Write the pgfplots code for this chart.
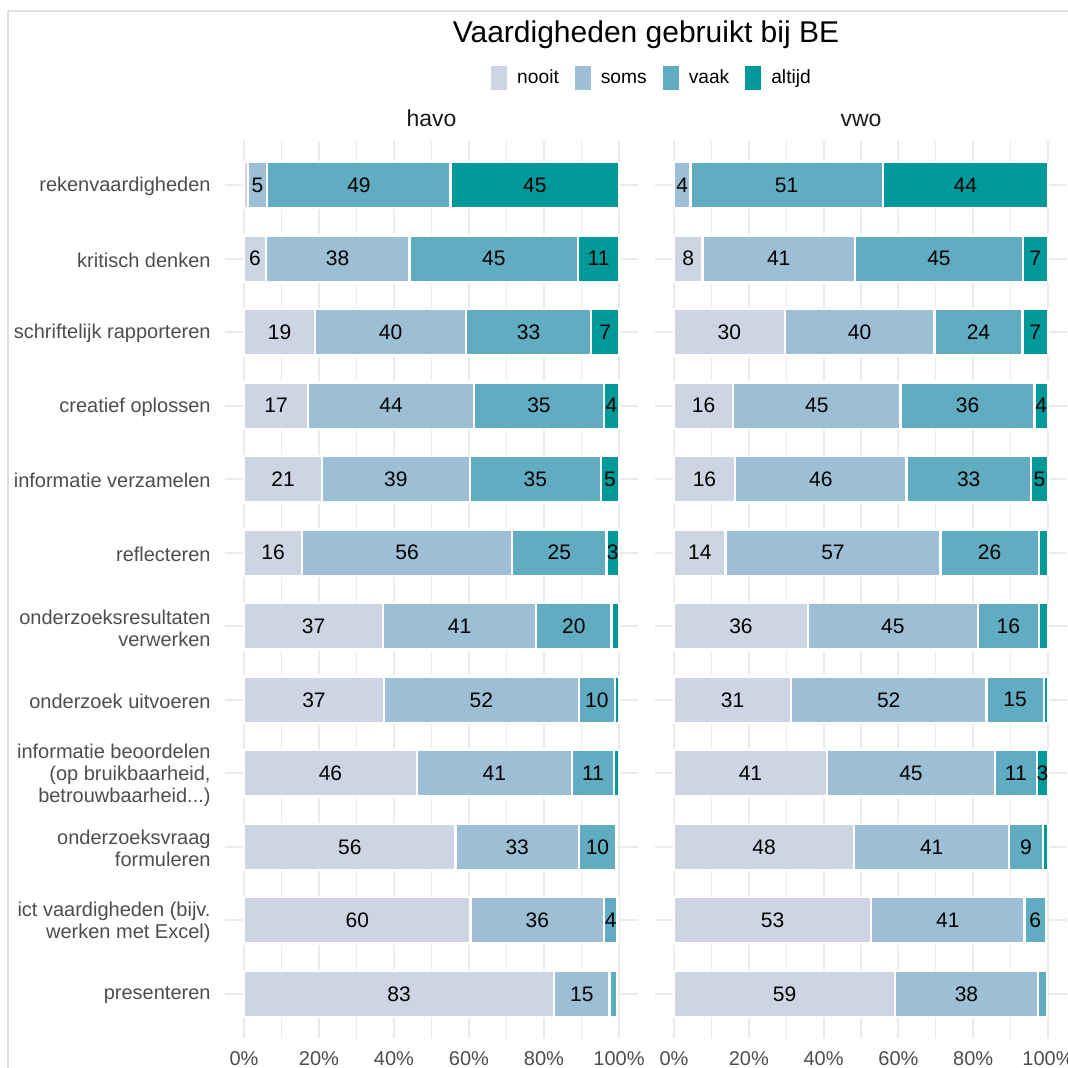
\documentclass[border=0pt]{standalone}
\usepackage{pgfplots}
\pgfplotsset{compat=1.18}
\usepackage{pgfplotstable}
\usepackage{fontspec}
\setmainfont{Liberation Sans}
\definecolor{cN}{HTML}{CDD5E4}
\definecolor{cS}{HTML}{9DBFD6}
\definecolor{cV}{HTML}{60ACC0}
\definecolor{cA}{HTML}{009999}
\definecolor{gridc}{HTML}{EBEBEB}
\definecolor{txtg}{HTML}{4D4D4D}
\definecolor{stripc}{HTML}{1A1A1A}
\definecolor{borderc}{HTML}{DEDEDE}
\newcommand\threedots{.\kern0pt.\kern0pt.}

\pgfplotstableread{
i n s v a
1 1.0 5.2 48.9 44.9
2 5.8 38.3 45.0 10.9
3 19.0 40.2 33.4 7.4
4 17.1 44.2 34.7 4.0
5 20.8 39.4 35.0 4.8
6 15.5 56.0 25.2 3.3
7 37.1 40.8 20.1 2.0
8 37.3 52.0 9.6 1.1
9 46.1 41.3 11.3 1.3
10 56.4 32.9 9.9 0
11 60.4 35.6 3.6 0
12 82.7 14.8 2.0 0
}\havo

\pgfplotstableread{
i n s v a
1 0 4.4 51.4 44.2
2 7.6 40.8 44.9 6.7
3 29.6 40.0 23.6 6.8
4 15.8 44.8 35.8 3.6
5 16.3 45.9 33.2 4.6
6 13.8 57.4 26.4 2.4
7 35.8 45.4 16.4 2.4
8 31.3 52.2 15.4 1.1
9 40.9 44.9 11.2 3.0
10 48.2 41.4 9.0 1.4
11 52.7 41.0 5.8 0
12 59.1 38.2 2.4 0
}\vwo

\pgfplotsset{
  /pgf/number format/assume math mode=true,
  base/.style={scale only axis, height=448.6pt,
    xmin=-5, xmax=105, ymin=0.4, ymax=12.6, y dir=reverse,
    axis line style={draw=none}, major tick length=0pt, minor tick length=0pt,
    tick style={draw=none}},
  bars/.style={base, xbar stacked, bar width=23.2pt,
    xtick={0,20,40,60,80,100},
    xticklabels={0\%,20\%,40\%,60\%,80\%,100\%},
    minor xtick={10,30,50,70,90},
    ytick={1,2,3,4,5,6,7,8,9,10,11,12},
    xmajorgrids, xminorgrids, ymajorgrids,
    major grid style={draw=gridc, line width=1pt},
    minor grid style={draw=gridc, line width=0.6pt},
    ticklabel style={font=\fontsize{10}{11}\selectfont, text=txtg},
    xticklabel style={yshift=-3.4pt},
    yticklabel style={align=right, xshift=-3.8pt, yshift=-0.8pt},
  },
  seg/.style={fill=#1, draw=white, line width=1.2pt,
    legend image code/.code={\fill[#1, draw=none] (0pt,-6pt) rectangle (8pt,6pt);}},
  lab/.style={only marks, mark=*, mark size=0pt, mark options={draw=none, fill=none},
    point meta={\thisrow{#1}},
    restrict expr to domain={\thisrow{#1}}{2.5:1000},
    nodes near coords={\pgfmathprintnumber[fixed,precision=0]{\pgfplotspointmeta}},
    every node near coord/.append style={anchor=center, font=\fontsize{10.5}{12}\selectfont, text=black}},
}

\begin{document}
\begin{tikzpicture}
\useasboundingbox (0,0) rectangle (534pt,534pt);
\draw[borderc, line width=1pt] (4pt,-10pt) rectangle (540pt,528.5pt);

% titles
\node[anchor=base, font=\fontsize{15}{17}\selectfont] at (323pt,512.5pt) {Vaardigheden gebruikt bij BE};
\node[anchor=base, font=\fontsize{11.5}{13}\selectfont, text=stripc] at (215.75pt,470.75pt) {havo};
\node[anchor=base, font=\fontsize{11.5}{13}\selectfont, text=stripc] at (430.5pt,470.75pt) {vwo};

% havo bars
\begin{axis}[bars, width=206.25pt, at={(112.625pt,14.95pt)}, anchor=south west,
  yticklabels={rekenvaardigheden, kritisch denken, schriftelijk rapporteren, creatief oplossen, informatie verzamelen, reflecteren, {onderzoeksresultaten\\verwerken}, onderzoek uitvoeren, {informatie beoordelen\\(op bruikbaarheid,\\betrouwbaarheid\threedots)}, {onderzoeksvraag\\formuleren}, {ict vaardigheden (bijv.\\werken met Excel)}, presenteren},
  legend columns=4,
  legend style={at={(1.037,1.0701)}, anchor=center, draw=none, fill=none,
    font=\fontsize{9.6}{11}\selectfont,
    /tikz/every odd column/.append style={column sep=3pt},
    /tikz/every even column/.append style={column sep=6pt, text height=7pt, text depth=0.2pt}},
]
\addplot[seg=cN] table[x=n, y=i] \havo;
\addplot[seg=cS] table[x=s, y=i] \havo;
\addplot[seg=cV] table[x=v, y=i] \havo;
\addplot[seg=cA] table[x=a, y=i] \havo;
\legend{nooit, soms, vaak, altijd}
\end{axis}

\begin{axis}[base, hide axis, width=206.25pt, at={(112.625pt,14.95pt)}, anchor=south west]
\addplot[lab=n] table[x expr=\thisrow{n}/2, y=i] \havo;
\addplot[lab=s] table[x expr=\thisrow{n}+\thisrow{s}/2, y=i] \havo;
\addplot[lab=v] table[x expr=\thisrow{n}+\thisrow{s}+\thisrow{v}/2, y=i] \havo;
\addplot[lab=a] table[x expr=\thisrow{n}+\thisrow{s}+\thisrow{v}+\thisrow{a}/2, y=i] \havo;
\end{axis}

% vwo bars
\begin{axis}[bars, width=205.7pt, at={(327.65pt,14.95pt)}, anchor=south west,
  yticklabels={},
]
\addplot[seg=cN] table[x=n, y=i] \vwo;
\addplot[seg=cS] table[x=s, y=i] \vwo;
\addplot[seg=cV] table[x=v, y=i] \vwo;
\addplot[seg=cA] table[x=a, y=i] \vwo;
\end{axis}

\begin{axis}[base, hide axis, width=205.7pt, at={(327.65pt,14.95pt)}, anchor=south west]
\addplot[lab=n] table[x expr=\thisrow{n}/2, y=i] \vwo;
\addplot[lab=s] table[x expr=\thisrow{n}+\thisrow{s}/2, y=i] \vwo;
\addplot[lab=v] table[x expr=\thisrow{n}+\thisrow{s}+\thisrow{v}/2, y=i] \vwo;
\addplot[lab=a] table[x expr=\thisrow{n}+\thisrow{s}+\thisrow{v}+\thisrow{a}/2, y=i] \vwo;
\end{axis}
\end{tikzpicture}
\end{document}
